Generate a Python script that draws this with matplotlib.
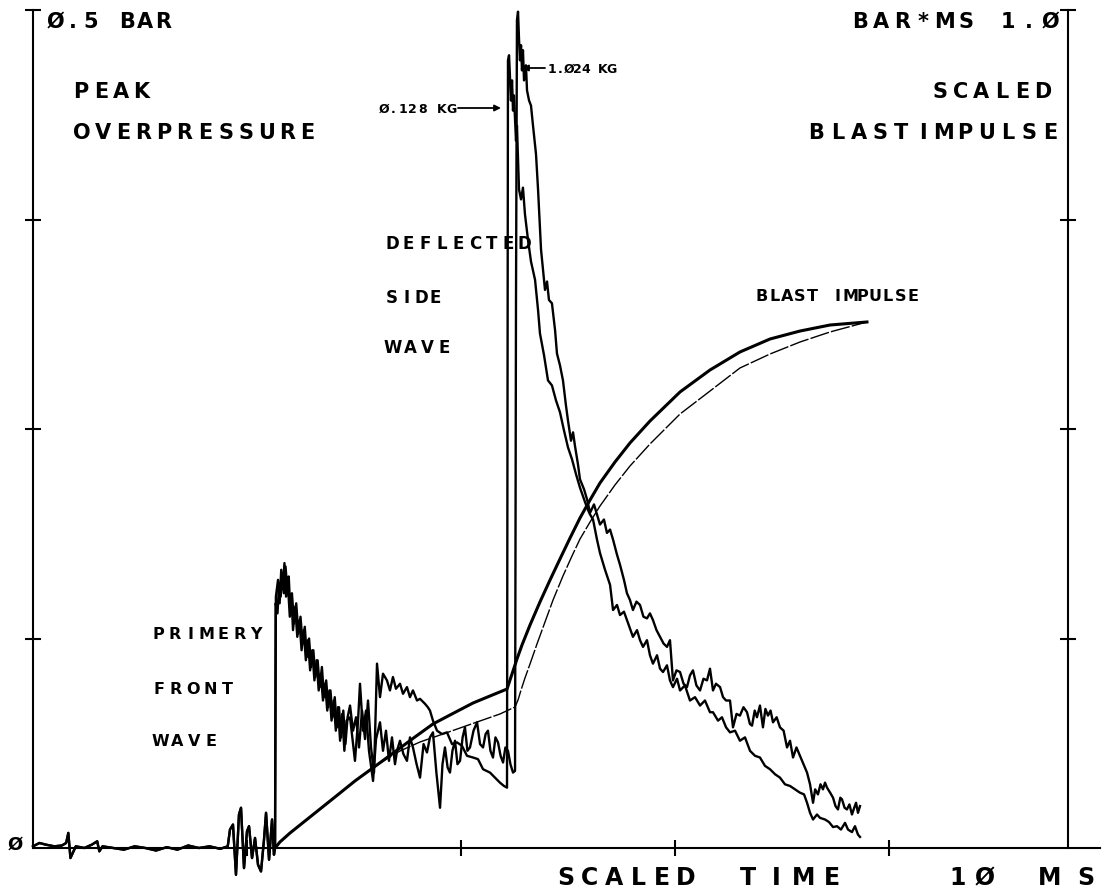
import numpy as np
import matplotlib
matplotlib.use('Agg')
import matplotlib.pyplot as plt

W, H = 1104, 889

# pre-trigger baseline + trigger noise (shared by both traces), t in ms, p in bar
t_pre = [0.00, 0.06, 0.12, 0.20, 0.27, 0.31, 0.33, 0.35, 0.40, 0.48, 0.55, 0.60, 0.62, 0.65, 0.75, 0.85,
         0.95, 1.05, 1.15, 1.25, 1.35, 1.45, 1.55, 1.65, 1.75, 1.82,
         1.841, 1.869, 1.897, 1.925, 1.944, 1.972, 2.000, 2.019, 2.047, 2.075, 2.103, 2.131, 2.159, 2.178,
         2.206, 2.234, 2.252, 2.262]
p_pre = [0.001, 0.003, 0.002, 0.001, 0.0015, 0.003, 0.009, -0.006, 0.001, 0.000, 0.002, 0.004, -0.002, 0.001,
         0.000, -0.001, 0.001, 0.000, -0.0015, 0.0005, -0.001, 0.0015, 0.000, 0.001, -0.0005, 0.001,
         0.011, 0.014, -0.016, 0.020, 0.024, -0.012, 0.010, 0.013, -0.006, 0.006, -0.010, -0.014, 0.005, 0.021,
         -0.007, 0.017, -0.004, 0.000]

# 0.128 kg trace
tA_prim = [2.268, 2.285, 2.300, 2.315, 2.330, 2.345, 2.360, 2.375, 2.390, 2.405, 2.420,
           2.44, 2.46, 2.48, 2.50, 2.52, 2.54, 2.56, 2.58, 2.60, 2.62, 2.64, 2.66, 2.68, 2.70, 2.72,
           2.74, 2.76, 2.78, 2.80, 2.82, 2.84, 2.86, 2.88, 2.90, 2.92, 2.94]
pA_prim = [0.146, 0.140, 0.158, 0.150, 0.163, 0.152, 0.168, 0.156, 0.162, 0.142, 0.152,
           0.134, 0.146, 0.128, 0.138, 0.122, 0.132, 0.114, 0.125, 0.108, 0.118, 0.102, 0.112, 0.096, 0.108,
           0.090, 0.100, 0.084, 0.094, 0.078, 0.090, 0.072, 0.084, 0.066, 0.082, 0.062, 0.078]
tA_mid = [2.963, 2.991, 3.019, 3.047, 3.075, 3.103, 3.131, 3.159, 3.187, 3.215,
          3.243, 3.271, 3.308, 3.336, 3.364, 3.392, 3.430, 3.458, 3.495, 3.523,
          3.551, 3.589, 3.617, 3.664, 3.690, 3.710, 3.738, 3.776, 3.822, 3.869,
          3.916, 3.963, 4.009, 4.056, 4.112, 4.159, 4.206, 4.271, 4.318, 4.364,
          4.402, 4.430]
pA_mid = [0.085, 0.070, 0.078, 0.060, 0.082, 0.065, 0.088, 0.060, 0.045, 0.110,
          0.090, 0.104, 0.100, 0.094, 0.102, 0.095, 0.098, 0.092, 0.096, 0.090,
          0.094, 0.088, 0.089, 0.086, 0.084, 0.082, 0.076, 0.070, 0.068, 0.069,
          0.062, 0.063, 0.061, 0.055, 0.054, 0.053, 0.047, 0.045, 0.042, 0.039,
          0.037, 0.036]
tA_peak = [4.439, 4.449, 4.467, 4.477, 4.486, 4.495, 4.514, 4.523, 4.533, 4.542,
           4.561, 4.579, 4.598, 4.626, 4.654, 4.692, 4.720, 4.738, 4.776, 4.813,
           4.850, 4.888, 4.925, 4.963, 5.000, 5.037, 5.075, 5.112, 5.150, 5.178,
           5.206, 5.234, 5.271]
pA_peak = [0.470, 0.473, 0.446, 0.458, 0.440, 0.449, 0.422, 0.431, 0.411, 0.393,
           0.387, 0.394, 0.378, 0.363, 0.350, 0.339, 0.321, 0.307, 0.294, 0.279,
           0.276, 0.267, 0.260, 0.249, 0.239, 0.232, 0.223, 0.215, 0.208, 0.203,
           0.199, 0.196, 0.184]
tA_late = [5.299, 5.346, 5.393, 5.421, 5.458, 5.486, 5.523, 5.551, 5.579, 5.607,
           5.645, 5.673, 5.701, 5.738, 5.766, 5.794, 5.832, 5.860, 5.888, 5.925,
           5.953, 5.981, 6.019, 6.047, 6.093, 6.140, 6.187, 6.234, 6.280, 6.327,
           6.355, 6.402, 6.439, 6.477, 6.514, 6.561, 6.607, 6.654, 6.701, 6.748,
           6.794, 6.841, 6.888, 6.935, 6.981, 7.028, 7.075, 7.121, 7.168, 7.206,
           7.234, 7.262, 7.290, 7.327, 7.355, 7.402, 7.439, 7.477, 7.514, 7.551,
           7.589, 7.617, 7.654, 7.682, 7.710, 7.729]
pA_late = [0.176, 0.166, 0.157, 0.142, 0.145, 0.139, 0.141, 0.136, 0.131, 0.126,
           0.130, 0.124, 0.120, 0.124, 0.115, 0.110, 0.115, 0.107, 0.105, 0.109,
           0.100, 0.096, 0.101, 0.094, 0.097, 0.088, 0.090, 0.085, 0.088, 0.081,
           0.081, 0.076, 0.078, 0.072, 0.069, 0.070, 0.064, 0.066, 0.058, 0.055,
           0.054, 0.049, 0.047, 0.044, 0.042, 0.038, 0.037, 0.035, 0.033, 0.032,
           0.027, 0.021, 0.017, 0.020, 0.018, 0.017, 0.0155, 0.0125, 0.013, 0.011,
           0.015, 0.011, 0.0095, 0.013, 0.008, 0.0066]

# 1.024 kg trace
tB_prim = [2.270, 2.290, 2.305, 2.320, 2.335, 2.350, 2.365, 2.380, 2.400, 2.415,
           2.430, 2.450, 2.470, 2.490, 2.510, 2.530, 2.550, 2.570, 2.590, 2.610,
           2.630, 2.650, 2.670, 2.690, 2.710, 2.730, 2.750, 2.770, 2.790, 2.810,
           2.830, 2.850, 2.870, 2.890, 2.910, 2.930]
pB_prim = [0.150, 0.160, 0.146, 0.166, 0.155, 0.170, 0.150, 0.160, 0.138, 0.150,
           0.130, 0.144, 0.126, 0.136, 0.118, 0.130, 0.112, 0.124, 0.106, 0.118,
           0.100, 0.112, 0.094, 0.104, 0.088, 0.098, 0.082, 0.094, 0.076, 0.088,
           0.070, 0.084, 0.064, 0.080, 0.058, 0.076]
tB_mid = [2.963, 2.991, 3.009, 3.037, 3.056, 3.084, 3.112, 3.140, 3.178, 3.206,
          3.243, 3.271, 3.299, 3.327, 3.355, 3.383, 3.402, 3.430, 3.462, 3.495,
          3.523, 3.551, 3.585, 3.617, 3.650, 3.682, 3.710, 3.738, 3.770, 3.804,
          3.827, 3.850, 3.875, 3.897, 3.920, 3.944, 3.967, 3.991, 4.015, 4.037,
          4.060, 4.084, 4.117, 4.150, 4.178, 4.206, 4.230, 4.252, 4.275, 4.299,
          4.322, 4.346, 4.370, 4.393, 4.415, 4.439, 4.462, 4.486, 4.505]
pB_mid = [0.078, 0.062, 0.052, 0.075, 0.098, 0.070, 0.082, 0.058, 0.040, 0.065,
          0.075, 0.058, 0.070, 0.052, 0.066, 0.050, 0.058, 0.064, 0.056, 0.052,
          0.066, 0.060, 0.050, 0.042, 0.062, 0.057, 0.066, 0.069, 0.045, 0.024,
          0.050, 0.060, 0.048, 0.045, 0.058, 0.064, 0.050, 0.052, 0.066, 0.072,
          0.058, 0.060, 0.070, 0.075, 0.062, 0.060, 0.068, 0.070, 0.058, 0.054,
          0.066, 0.063, 0.055, 0.051, 0.060, 0.058, 0.050, 0.045, 0.046]
tB_peak = [4.514, 4.523, 4.533, 4.542, 4.551, 4.561, 4.570, 4.579, 4.589, 4.607,
           4.617, 4.636, 4.654, 4.673, 4.701, 4.720, 4.748, 4.766, 4.785, 4.804,
           4.822, 4.850, 4.879, 4.897, 4.925, 4.953, 4.981, 5.000, 5.028, 5.047,
           5.065, 5.093, 5.112, 5.150, 5.178, 5.206, 5.243, 5.271]
pB_peak = [0.327, 0.494, 0.499, 0.483, 0.470, 0.479, 0.464, 0.476, 0.458, 0.467,
           0.452, 0.446, 0.443, 0.431, 0.414, 0.393, 0.357, 0.345, 0.333, 0.338,
           0.327, 0.325, 0.309, 0.295, 0.288, 0.279, 0.264, 0.255, 0.243, 0.248,
           0.240, 0.229, 0.220, 0.214, 0.208, 0.200, 0.205, 0.199]
tB_late = [5.299, 5.336, 5.364, 5.393, 5.421, 5.458, 5.486, 5.523, 5.551, 5.579,
           5.607, 5.640, 5.673, 5.705, 5.738, 5.766, 5.794, 5.827, 5.860, 5.893,
           5.925, 5.953, 5.981, 6.014, 6.047, 6.080, 6.112, 6.140, 6.168, 6.200,
           6.234, 6.266, 6.299, 6.327, 6.355, 6.383, 6.421, 6.449, 6.477, 6.514,
           6.542, 6.575, 6.607, 6.640, 6.673, 6.700, 6.720, 6.745, 6.766, 6.794,
           6.822, 6.845, 6.869, 6.893, 6.916, 6.950, 6.981, 7.015, 7.047, 7.075,
           7.103, 7.135, 7.168, 7.200, 7.234, 7.262, 7.290, 7.310, 7.336, 7.360,
           7.383, 7.402, 7.421, 7.450, 7.477, 7.500, 7.523, 7.545, 7.561, 7.585,
           7.607, 7.630, 7.654, 7.675, 7.692, 7.710, 7.729]
pB_late = [0.193, 0.196, 0.188, 0.190, 0.184, 0.175, 0.169, 0.160, 0.152, 0.148,
           0.142, 0.147, 0.145, 0.138, 0.137, 0.140, 0.136, 0.130, 0.126, 0.122,
           0.120, 0.124, 0.100, 0.106, 0.105, 0.098, 0.096, 0.103, 0.106, 0.097,
           0.094, 0.101, 0.100, 0.107, 0.094, 0.098, 0.096, 0.090, 0.088, 0.088,
           0.072, 0.080, 0.079, 0.084, 0.081, 0.074, 0.073, 0.082, 0.078, 0.085,
           0.072, 0.083, 0.079, 0.082, 0.075, 0.078, 0.072, 0.070, 0.060, 0.064,
           0.054, 0.060, 0.055, 0.050, 0.045, 0.038, 0.027, 0.035, 0.032, 0.038,
           0.035, 0.039, 0.036, 0.033, 0.030, 0.025, 0.023, 0.030, 0.029, 0.024,
           0.023, 0.026, 0.020, 0.024, 0.027, 0.021, 0.025]

# scaled blast impulse, bar*ms
imp1_t = [2.262, 2.308, 2.402, 2.495, 2.589, 2.682, 2.776, 2.869, 3.009, 3.150, 3.290, 3.430, 3.570,
          3.738, 3.897, 4.112, 4.271, 4.430, 4.458, 4.486, 4.523, 4.570, 4.645, 4.738, 4.832, 4.925,
          5.019, 5.112, 5.206, 5.299, 5.439, 5.579, 5.766, 6.047, 6.327, 6.607, 6.888, 7.168, 7.449, 7.794]
imp1 = [0.0, 0.0072, 0.0179, 0.0274, 0.0370, 0.0465, 0.0561, 0.0656, 0.0800, 0.0931, 0.1062, 0.1193, 0.1325,
        0.1480, 0.1587, 0.1730, 0.1814, 0.1897, 0.2005, 0.2112, 0.2255, 0.2422, 0.2661, 0.2936, 0.3198, 0.3449,
        0.3699, 0.3938, 0.4153, 0.4356, 0.4606, 0.4833, 0.5095, 0.5442, 0.5704, 0.5919, 0.6074, 0.6169, 0.6241, 0.6277]
imp2_t = [2.262, 2.308, 2.402, 2.495, 2.589, 2.682, 2.776, 2.869, 3.009, 3.150, 3.290, 3.430, 3.617,
          3.804, 3.991, 4.178, 4.364, 4.505, 4.533, 4.561, 4.598, 4.645, 4.710, 4.785, 4.860, 4.953,
          5.037, 5.112, 5.206, 5.299, 5.439, 5.579, 5.766, 6.047, 6.327, 6.607, 6.888, 7.168, 7.449, 7.794]
imp2 = [0.0, 0.0072, 0.0179, 0.0274, 0.0370, 0.0465, 0.0561, 0.0656, 0.0800, 0.0931, 0.1050, 0.1158, 0.1265,
        0.1348, 0.1432, 0.1516, 0.1599, 0.1683, 0.1766, 0.1885, 0.2029, 0.2196, 0.2434, 0.2697, 0.2959, 0.3246,
        0.3484, 0.3687, 0.3890, 0.4081, 0.4332, 0.4558, 0.4821, 0.5179, 0.5453, 0.5728, 0.5895, 0.6038, 0.6158, 0.6277]

tA = np.concatenate([t_pre, tA_prim, tA_mid, tA_peak, tA_late])
pA = np.concatenate([p_pre, pA_prim, pA_mid, pA_peak, pA_late])
tB = np.concatenate([t_pre, tB_prim, tB_mid, tB_peak, tB_late])
pB = np.concatenate([p_pre, pB_prim, pB_mid, pB_peak, pB_late])

fig = plt.figure(figsize=(W / 100, H / 100), dpi=100)
ax = fig.add_axes([33 / W, 41 / H, 1067 / W, 838 / H])
ax.set_xlim(0, 1067 / 107)
ax.set_ylim(0, 0.5)
for s in ['top', 'right']:
    ax.spines[s].set_visible(False)
for s in ['left', 'bottom']:
    ax.spines[s].set_linewidth(1.5)
ax.set_xticks([2, 4, 6, 8])
ax.set_yticks([0.125, 0.25, 0.375, 0.5])
ax.tick_params(direction='inout', length=12, width=1.5, labelleft=False, labelbottom=False)

ax.plot(tA, pA, color='k', lw=1.7, clip_on=False)
ax.plot(tB, pB, color='k', lw=1.7, clip_on=False)

# right hand impulse axis
t_right = 1035 / 107
ax.plot([t_right, t_right], [0, 0.5], color='k', lw=1.5, clip_on=False)
ax.plot([t_right] * 4, [0.125, 0.25, 0.375, 0.5], ls='none', marker='_', ms=12, mew=1.5,
        color='k', clip_on=False)

ax2 = ax.twinx()
ax2.set_ylim(0, 1.0)
ax2.axis('off')
ax2.plot(imp1_t, imp1, color='k', lw=2.2)
ax2.plot(imp2_t, imp2, color='k', lw=1.0, dashes=(14, 1.5))


def plotter_text(s, x0, base, size, pitch):
    # one glyph at a time, fixed pitch like the pen plotter
    for i, ch in enumerate(s):
        if ch == ' ':
            continue
        fig.text((x0 + i * pitch) / W, 1 - base / H, ch, fontsize=size, ha='center', va='baseline',
                 family='DejaVu Sans', weight='bold')


plotter_text('Ø.5 BAR', 55, 28, 15, 18)
plotter_text('PEAK', 81, 98, 15, 20)
plotter_text('OVERPRESSURE', 82, 139, 15, 20.5)
plotter_text('BAR*MS 1.Ø', 860, 28, 15, 21.1)
plotter_text('SCALED', 940, 98, 15, 20.6)
plotter_text('BLASTIMPULSE', 816, 139, 15, 21.3)
plotter_text('DEFLECTED', 392, 249, 12, 16.6)
plotter_text('SIDE', 392, 303, 12, 14.5)
plotter_text('WAVE', 393, 353, 12, 17)
plotter_text('BLAST IMPULSE', 762, 301, 11.5, 12.6)
plotter_text('PRIMERY', 158, 639, 11.5, 16.3)
plotter_text('FRONT', 159, 694, 11.5, 17)
plotter_text('WAVE', 160, 746, 11.5, 17)
plotter_text('1.Ø24 KG', 552, 73, 9, 8.5)
plotter_text('Ø.128 KG', 384, 113, 9, 9.6)
plotter_text('Ø', 15, 850, 13, 10)
plotter_text('SCALED', 566, 885, 17, 24)
plotter_text('TIME', 748, 885, 17, 28)
plotter_text('1Ø', 958, 885, 17, 27)
plotter_text('MS', 1050, 885, 17, 36)

arrow = dict(arrowstyle='-|>', lw=1.3, color='k', mutation_scale=9, shrinkA=0, shrinkB=0)
ax.annotate('', xy=(501, H - 108), xytext=(458, H - 108), xycoords='figure pixels',
            textcoords='figure pixels', arrowprops=arrow)
ax.annotate('', xy=(522, H - 68), xytext=(545, H - 68), xycoords='figure pixels',
            textcoords='figure pixels', arrowprops=arrow)

fig.savefig('out.png', dpi=100)
